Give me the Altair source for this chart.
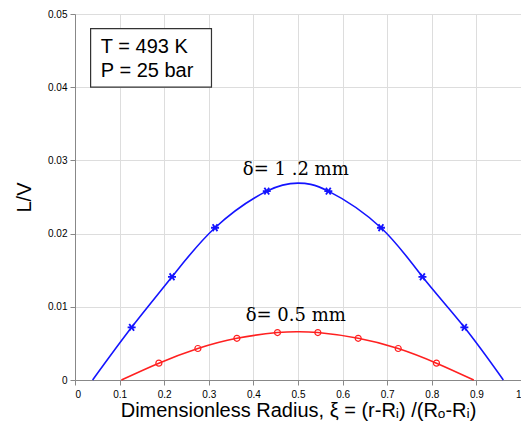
import altair as alt
import pandas as pd

# ---- data ----
blue_x = [0.0395, 0.127, 0.2175, 0.314, 0.43, 0.5, 0.568, 0.686, 0.779, 0.873, 0.9604]
blue_y = [0.0, 0.0072, 0.0141, 0.0208, 0.0258, 0.0269, 0.0258, 0.0208, 0.0141, 0.0072, 0.0]
blue_marker_x = [0.127, 0.2175, 0.314, 0.43, 0.568, 0.686, 0.779, 0.873]
blue_marker_y = [0.0072, 0.0141, 0.0208, 0.0258, 0.0258, 0.0208, 0.0141, 0.0072]

red_x = [0.104, 0.188, 0.2755, 0.363, 0.454, 0.5, 0.5445, 0.635, 0.7247, 0.8105, 0.894]
red_y = [0.0, 0.0023, 0.0043, 0.0057, 0.00648, 0.0066, 0.00648, 0.0057, 0.0043, 0.0023, 0.0]
red_marker_x = [0.188, 0.2755, 0.363, 0.454, 0.5445, 0.635, 0.7247, 0.8105]
red_marker_y = [0.0023, 0.0043, 0.0057, 0.00648, 0.00648, 0.0057, 0.0043, 0.0023]

x_ticks = [0, 0.1, 0.2, 0.3, 0.4, 0.5, 0.6, 0.7, 0.8, 0.9, 1.0]
y_ticks = [0, 0.01, 0.02, 0.03, 0.04, 0.05]

curve_labels = ["δ= 1 .2 mm", "δ= 0.5 mm"]
curve_label_x = [0.495, 0.495]
curve_label_y = [0.0280, 0.0081]

box_lines = ["T = 493 K", "P = 25 bar"]
box_line_x = [0.058, 0.058]
box_line_y = [0.0447, 0.04143]
box_x, box_x2, box_y, box_y2 = 0.035, 0.306, 0.0400, 0.0480

x_title = "Dimensionless Radius, ξ = (r-Rᵢ) /(Rₒ-Rᵢ)"
y_title = "L/V"

BLUE = "#1414ff"
RED = "#ff2020"

# ---- tables ----
curves = pd.DataFrame({
    "x": blue_x + red_x,
    "y": blue_y + red_y,
    "series": ["b"] * len(blue_x) + ["r"] * len(red_x),
})
bmark = pd.DataFrame({"x": blue_marker_x, "y": blue_marker_y})
rmark = pd.DataFrame({"x": red_marker_x, "y": red_marker_y})
labels = pd.DataFrame({"x": curve_label_x, "y": curve_label_y, "t": curve_labels})
boxtxt = pd.DataFrame({"x": box_line_x, "y": box_line_y, "t": box_lines})
boxdf = pd.DataFrame({"x": [box_x], "x2": [box_x2], "y": [box_y], "y2": [box_y2]})

xscale = alt.Scale(domain=[0, 1], nice=False, zero=False)
yscale = alt.Scale(domain=[0, 0.05], nice=False, zero=False)

X = alt.X("x:Q", scale=xscale, axis=alt.Axis(
    values=x_ticks, title=x_title, grid=True,
    labelExpr="format(datum.value, '~g')",
    labelPadding=4, titlePadding=1,
    titleFont="Liberation Sans", titleFontSize=20, titleFontWeight="normal",
    titleColor="#000000"))
Y = alt.Y("y:Q", scale=yscale, axis=alt.Axis(
    values=y_ticks, title=y_title, grid=True,
    labelExpr="datum.value == 0 ? '0' : format(datum.value, '.2f')",
    labelPadding=3, titlePadding=13,
    titleFont="Liberation Sans", titleFontSize=20, titleFontWeight="normal",
    titleColor="#000000"))

lines = alt.Chart(curves).mark_line(interpolate="natural", strokeWidth=1.6).encode(
    x=X, y=Y,
    color=alt.Color("series:N", scale=alt.Scale(domain=["b", "r"], range=[BLUE, RED]), legend=None),
)

asterisk = "M-1,0L1,0M-0.6,-0.85L0.6,0.85M-0.6,0.85L0.6,-0.85"
stars = alt.Chart(bmark).mark_point(shape=asterisk, size=64, filled=False,
                                     strokeWidth=1.8, color=BLUE, opacity=1).encode(
    x="x:Q", y="y:Q")
circles = alt.Chart(rmark).mark_point(shape="circle", size=36, filled=False,
                                       strokeWidth=1.2, color=RED, opacity=1).encode(
    x="x:Q", y="y:Q")

box = alt.Chart(boxdf).mark_rect(fill="white", stroke="#333333", strokeWidth=1.2).encode(
    x="x:Q", x2="x2", y="y:Q", y2="y2")
box_text = alt.Chart(boxtxt).mark_text(align="left", baseline="alphabetic",
                                       font="Liberation Sans", fontSize=20,
                                       color="#000000").encode(
    x="x:Q", y="y:Q", text="t:N")
curve_text = alt.Chart(labels).mark_text(align="center", baseline="alphabetic",
                                         font="DejaVu Serif", fontSize=18,
                                         color="#000000").encode(
    x="x:Q", y="y:Q", text="t:N")

chart = alt.layer(lines, stars, circles, box, box_text, curve_text).properties(
    width=446, height=366,
    autosize=alt.AutoSizeParams(type="none"),
    padding={"left": 75, "top": 14, "right": 0, "bottom": 43},
).configure_view(
    stroke="#444444", strokeWidth=1.5
).configure_axis(
    domainColor="#444444", domainWidth=1.5,
    gridColor="#d9d9d9", gridWidth=1.5,
    ticks=False, tickSize=0,
    labelColor="#555555", labelFont="DejaVu Sans", labelFontSize=10,
).configure(background="white")

chart.save("out.html", embed_options={"renderer": "svg", "actions": False})
